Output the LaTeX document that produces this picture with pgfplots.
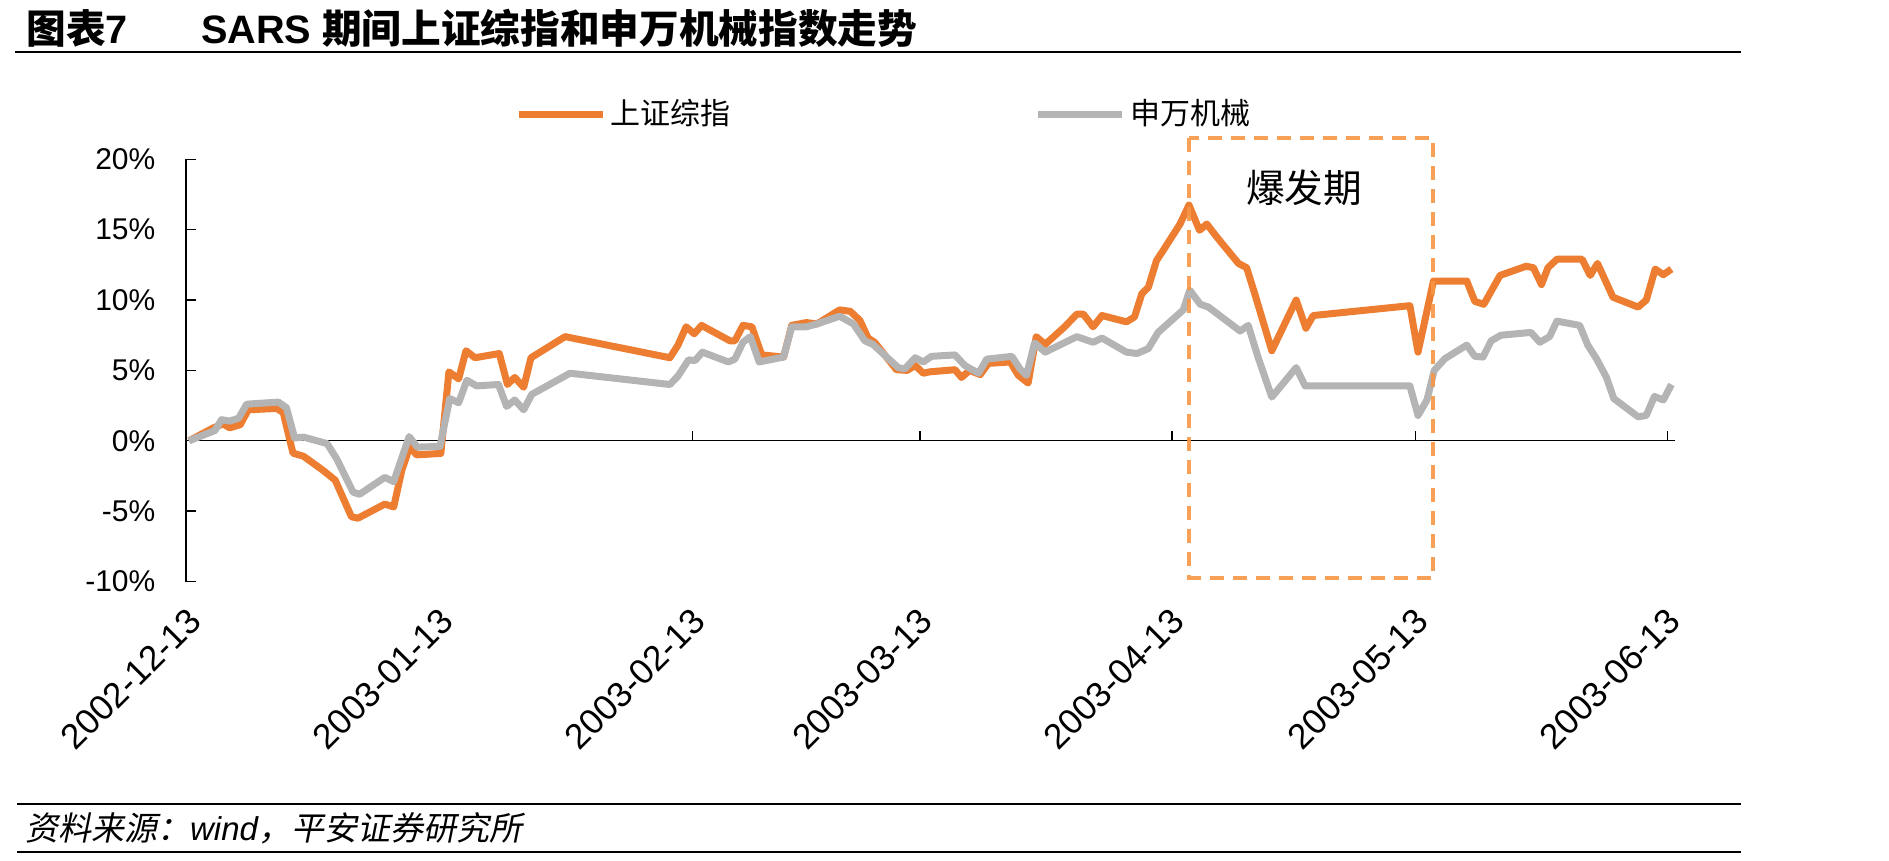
\documentclass[border=0pt]{standalone}
\usepackage{fontspec}
\usepackage{pgfplots}
\pgfplotsset{compat=1.18}
\setmainfont{Liberation Sans}
\newfontfamily\cjk{Noto Sans CJK SC}
\newfontfamily\cjkit{Noto Sans CJK SC}[FakeSlant=0.2]
\definecolor{sseorange}{RGB}{237,125,49}
\definecolor{swgray}{RGB}{180,180,180}
\definecolor{boxorange}{RGB}{247,150,70}
\begin{document}
\begin{tikzpicture}[x=1pt,y=1pt]
\path[use as bounding box] (0,0) rectangle (566.7,258);
\node[anchor=west, inner sep=0pt] at (7.8,249.6) {\fontsize{11.9}{14}\selectfont{\cjk\bfseries 图表}{\bfseries 7}\hspace{21.9pt}{\bfseries SARS }{\cjk\bfseries 期间上证综指和申万机械指数走势}};
\draw[line width=0.8pt] (4.35,242.4) -- (522.3,242.4);
\draw[line width=0.6pt] (5.1,16.8) -- (522.3,16.8);
\draw[line width=0.6pt] (5.1,2.4) -- (522.3,2.4);
\node[anchor=west, inner sep=0pt] at (7.35,9.6) {\fontsize{9.9}{12}\selectfont{\cjkit 资料来源：}{\itshape wind}{\cjkit ，平安证券研究所}};
\begin{axis}[
 at={(55.8pt,83.55pt)}, anchor=south west,
 scale only axis, width=446.7pt, height=126.66pt,
 xmin=-0.37, xmax=182.94, ymin=-10, ymax=20,
 axis x line*=bottom, axis y line*=left,
 x axis line style={draw=none},
 y axis line style={line width=0.4pt},
 xtick={0,31,62,90,121,151,182},
 xticklabels={2002-12-13,2003-01-13,2003-02-13,2003-03-13,2003-04-13,2003-05-13,2003-06-13},
 xtick style={draw=none},
 xticklabel style={font=\fontsize{10.6}{12}\selectfont, xshift=-0.8pt, yshift=-7.2pt, rotate=45, anchor=north east, inner sep=0pt},
 ytick={-10,-5,0,5,10,15,20},
 yticklabels={-10\%,-5\%,0\%,5\%,10\%,15\%,20\%},
 yticklabel style={font=\fontsize{9}{11}\selectfont, inner sep=0pt, xshift=-9pt},
 ytick style={line width=0.4pt, black},
 tick align=inside, major tick length=3pt,
 clip=false,
 legend columns=2,
 legend style={at={(0.2205,1.107)}, anchor=west, draw=none, fill=none, inner sep=0pt, font=\fontsize{9}{11}\selectfont, nodes={inner xsep=1.3pt}, /tikz/every even column/.append style={column sep=90pt}},
 legend image code/.code={\draw[#1] (0pt,0pt) -- (25.2pt,0pt);},
]
\draw[line width=0.4pt] (axis cs:-0.37,0) -- (axis cs:182.94,0);
\pgfplotsinvokeforeach{31,62,90,121,151,182}{\draw[line width=0.4pt] (axis cs:#1,0) -- ++(0pt,3pt);}
\addplot[color=sseorange, line width=2.1pt, line join=round] table {
x y
0 0
3 0.92
4.2 1.2
5 0.92
6.3 1.14
7.3 2.2
10.8 2.3
11.6 2.0
12.8 -0.88
14.1 -1.1
16.5 -2.1
18 -2.8
20 -5.4
20.8 -5.5
24.1 -4.5
25.2 -4.7
26.2 -2.1
27.2 -0.4
28 -1.0
31 -0.9
32 4.9
33.2 4.4
34.1 6.4
35.2 5.9
38.2 6.2
39.2 4.0
40.1 4.5
41.2 3.8
42.1 5.9
46.3 7.4
59.2 5.9
60.2 6.8
61.2 8.1
62.2 7.6
63.1 8.2
66.6 7.1
67.2 7.1
68.2 8.2
69.3 8.1
70.5 6.1
73.2 5.95
74.2 8.2
76.0 8.4
77.3 8.3
80.1 9.3
81.4 9.2
82.6 8.55
83.6 7.3
84.4 7.0
87.1 5.05
88.4 5.0
89.4 5.35
90.4 4.8
91.2 4.9
94.3 5.05
95.1 4.5
96.1 5.0
97.4 4.7
98.4 5.5
101.1 5.6
102.1 4.65
103.3 4.1
104.3 7.4
105.4 6.85
107.8 8.1
109.3 9.0
110.1 9.0
111.3 8.1
112.4 8.9
115.4 8.45
116.4 8.8
117.3 10.45
118.1 10.9
119.1 12.8
119.9 13.5
122 15.4
123.1 16.75
124.4 14.96
125.3 15.4
126.5 14.5
129.2 12.6
130.2 12.3
131.2 10.45
133.3 6.4
136.3 10.0
137.5 8.0
138.4 8.9
150.3 9.6
151.3 6.3
153.2 11.35
157.3 11.35
158.3 9.9
159.4 9.7
161.4 11.75
164.6 12.4
165.5 12.3
166.5 11.1
167.3 12.3
168.4 12.9
171.5 12.9
172.5 11.75
173.4 12.6
175.3 10.2
178.4 9.5
179.4 10.0
180.5 12.2
181.5 11.8
182.5 12.2
};
\addlegendentry{\cjk 上证综指}
\addplot[color=swgray, line width=2.1pt, line join=round] table {
x y
0 0
3.2 0.73
4.0 1.5
5 1.4
6.1 1.6
7.1 2.6
11.0 2.75
12.0 2.35
13.0 0.2
14.1 0.26
17.0 -0.2
18.2 -1.3
20.2 -3.65
21.0 -3.8
24.1 -2.6
25.2 -2.9
27.1 0.3
28.1 -0.45
30.9 -0.4
32.1 3.0
33.2 2.7
34.2 4.3
35.4 3.9
38.1 4.0
39.1 2.44
40.1 2.9
41.2 2.2
42.2 3.3
46.9 4.8
59.2 4.0
60.2 4.6
61.5 5.75
62.3 5.7
63.2 6.3
66.4 5.6
67.2 5.8
68.2 7.0
69.1 7.4
70.2 5.6
73.2 5.95
74.2 8.1
76 8.1
77.3 8.3
80.1 8.85
81.8 8.3
83.2 7.1
84.2 6.85
87.3 5.2
88.1 5.1
89.4 5.9
90.4 5.6
91.4 6.0
94.3 6.1
95.5 5.35
97.2 4.8
98.2 5.8
101.3 6.0
102.3 5.1
103.1 4.65
104.1 6.95
105.4 6.3
109.3 7.4
111.3 7.0
112.4 7.3
115.4 6.3
116.7 6.2
118.1 6.55
119.3 7.7
122.4 9.3
123.2 10.7
124.5 9.7
125.5 9.5
129.4 7.8
130.4 8.2
131.6 5.95
133.3 3.1
136.3 5.2
137.4 3.9
150.3 3.9
151.3 1.8
152.4 2.9
153.3 5.0
154.6 5.83
157.3 6.8
158.3 6.0
159.3 5.95
160.3 7.1
161.5 7.5
165.2 7.7
166.3 7.0
167.5 7.4
168.4 8.5
171.2 8.2
172.2 6.8
173.3 5.8
174.5 4.5
175.4 3.0
178.4 1.7
179.4 1.8
180.4 3.15
181.5 2.9
182.5 4.0
};
\addlegendentry{\cjk 申万机械}
\draw[color=boxorange, opacity=0.9, line width=1.2pt, dash pattern=on 4.2pt off 2.7pt] (axis cs:123.1,21.48) rectangle (axis cs:153.2,-9.72);
\node[inner sep=0pt] at (axis cs:137.3,17.98) {\cjk\fontsize{11.6}{14}\selectfont 爆发期};
\end{axis}
\end{tikzpicture}
\end{document}
